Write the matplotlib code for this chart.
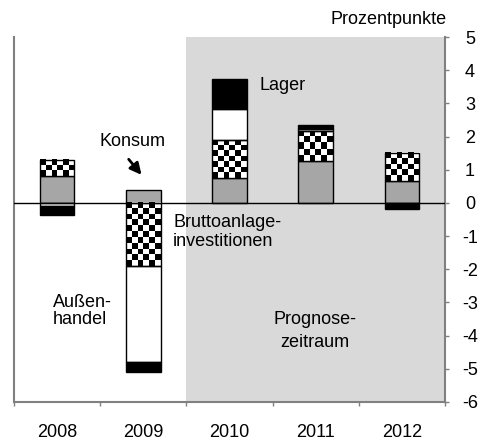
import numpy as np
import matplotlib
matplotlib.use("Agg")
import matplotlib.pyplot as plt

plt.rcParams['font.family'] = ['Liberation Sans', 'DejaVu Sans']
plt.rcParams['font.size'] = 13
plt.rcParams['axes.unicode_minus'] = False

# Wachstumsbeiträge in Prozentpunkten
years = ['2008', '2009', '2010', '2011', '2012']
konsum = [0.8, 0.4, 0.75, 1.25, 0.65]
bruttoanlage = [0.5, -1.9, 1.15, 0.92, 0.85]
aussenhandel = [-0.08, -2.9, 0.93, 0.05, 0.0]
lager = [-0.27, -0.3, 0.9, 0.13, -0.18]

series = [konsum, bruttoanlage, aussenhandel, lager]
colors = ['#a6a6a6', 'check', 'white', 'black']

fig = plt.figure(figsize=(4.8, 4.42), dpi=100)
ax = fig.add_axes([14 / 480, 1 - 402 / 442, 431 / 480, 365 / 442])

x = np.arange(len(years))
width = 0.4
cell_x = width / 6
cell_y = 0.173

ax.axvspan(1.5, 4.5, color='#d9d9d9', zorder=0, lw=0)

pos = np.zeros(len(years))
neg = np.zeros(len(years))
for vals, col in zip(series, colors):
    vals = np.array(vals)
    bottom = np.where(vals >= 0, pos, neg)
    for i in range(len(years)):
        if vals[i] == 0:
            continue
        if col == 'check':
            ax.bar(x[i], vals[i], width, bottom=bottom[i], facecolor='none',
                   edgecolor='black', lw=1.0, zorder=3)
            y0 = bottom[i]
            y1 = bottom[i] + vals[i]
            nrows = max(1, int(round(abs(vals[i]) / cell_y)))
            ncols = int(round(width / cell_x))
            r, c = np.indices((nrows, ncols))
            board = (r + c) % 2
            ax.imshow(board, cmap='gray', extent=(x[i] - width / 2, x[i] + width / 2,
                      min(y0, y1), max(y0, y1)), aspect='auto',
                      interpolation='nearest', zorder=2)
        else:
            ax.bar(x[i], vals[i], width, bottom=bottom[i], color=col,
                   edgecolor='black', lw=1.0, zorder=2)
    pos = pos + np.where(vals >= 0, vals, 0)
    neg = neg + np.where(vals < 0, vals, 0)

ax.axhline(0, color='black', lw=1.0, zorder=4)

ax.set_xlim(-0.5, 4.5)
ax.set_ylim(-6, 5)

# achsen
for s in ['left', 'bottom', 'right']:
    ax.spines[s].set_color('#808080')
    ax.spines[s].set_linewidth(1.5)
ax.spines['top'].set_visible(False)

ax.yaxis.tick_right()
ax.set_yticks(range(-6, 6))
ax.tick_params(axis='y', which='major', direction='out', length=3, width=1,
               color='#808080', pad=15)
for lab in ax.get_yticklabels():
    lab.set_horizontalalignment('center')

ax.set_xticks(x)
ax.set_xticklabels(years)
ax.set_xticks(np.arange(-0.5, 5, 1), minor=True)
ax.tick_params(axis='x', which='major', length=0, pad=16)
ax.tick_params(axis='x', which='minor', direction='out', length=3, width=1,
               color='#808080')

fig.text(447 / 480, 1 - 20 / 442, 'Prozentpunkte', ha='right', va='center')

ax.text(0.87, 1.84, 'Konsum', ha='center', va='center')
ax.annotate('', xy=(1.0, 0.78), xytext=(0.81, 1.38),
            arrowprops=dict(arrowstyle='-|>', color='black', lw=2.0,
                            mutation_scale=17))
ax.text(2.62, 3.55, 'Lager', ha='center', va='center')
ax.text(1.345, -0.88, 'Bruttoanlage-\ninvestitionen', ha='left', va='center',
        linespacing=1.2)
ax.text(-0.05, -3.26, 'Außen-\nhandel', ha='left', va='center',
        linespacing=1.05)
ax.text(2.99, -3.86, 'Prognose-\nzeitraum', ha='center', va='center',
        linespacing=1.4)

fig.savefig('out.png', dpi=100)
